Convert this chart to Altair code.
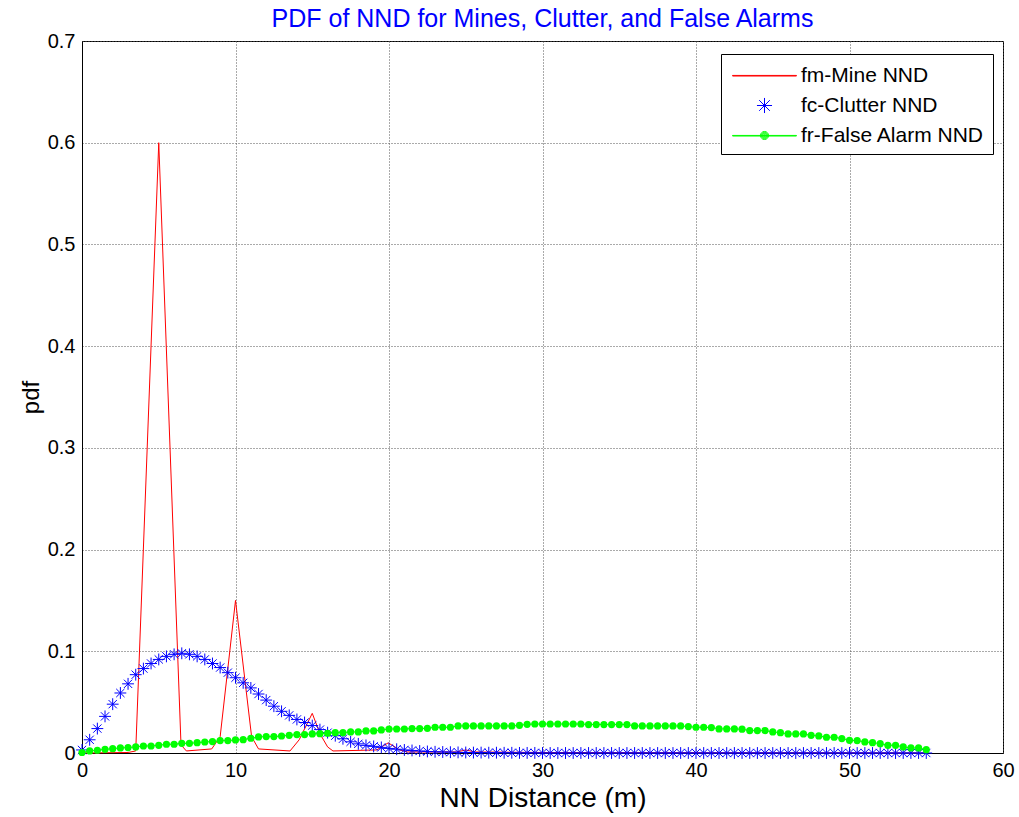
import altair as alt
import pandas as pd

# ---------------- data ----------------
x_grid = [i * 0.5 for i in range(111)]  # 0 .. 55 in steps of 0.5

clutter_pdf = [
    0.003, 0.013, 0.024, 0.036, 0.048, 0.059, 0.068, 0.077, 0.083, 0.088,
    0.092, 0.095, 0.097, 0.098, 0.097, 0.095, 0.092, 0.088, 0.084, 0.079,
    0.074, 0.069, 0.064, 0.058, 0.052, 0.046, 0.041, 0.037, 0.033, 0.030,
    0.027, 0.023, 0.020, 0.017, 0.014, 0.011, 0.009, 0.0075, 0.0065, 0.0055,
    0.0045, 0.0037, 0.003, 0.0025, 0.002, 0.0015, 0.0012, 0.001, 0.0008, 0.0006,
    0.0005, 0.0004, 0.0004, 0.0003, 0.0003, 0.0002, 0.0002, 0.0001, 0.0001, 0.0001,
    0.0, 0.0, 0.0, 0.0, 0.0, 0.0, 0.0, 0.0, 0.0, 0.0,
    0.0, 0.0, 0.0, 0.0, 0.0, 0.0, 0.0, 0.0, 0.0, 0.0,
    0.0, 0.0, 0.0, 0.0, 0.0, 0.0, 0.0, 0.0, 0.0, 0.0,
    0.0, 0.0, 0.0, 0.0, 0.0, 0.0, 0.0, 0.0, 0.0, 0.0,
    0.0, 0.0, 0.0, 0.0, 0.0, 0.0, 0.0, 0.0, 0.0, 0.0,
    0.0,
]

false_alarm_pdf = [
    0.0005, 0.002, 0.0027, 0.0036, 0.0043, 0.005, 0.0053, 0.006, 0.0069, 0.0069,
    0.0076, 0.0086, 0.0086, 0.0095, 0.0095, 0.0102, 0.0108, 0.0112, 0.0122, 0.0122,
    0.0128, 0.0131, 0.0145, 0.0158, 0.0161, 0.0161, 0.0167, 0.0174, 0.0181, 0.0181,
    0.0187, 0.019, 0.0194, 0.020, 0.020, 0.0207, 0.0207, 0.0217, 0.0217, 0.0227,
    0.0236, 0.0236, 0.0236, 0.024, 0.024, 0.0243, 0.0253, 0.0253, 0.0253, 0.0266,
    0.0266, 0.0266, 0.0266, 0.0266, 0.0266, 0.0266, 0.0266, 0.0272, 0.0282, 0.0285,
    0.0285, 0.0285, 0.0285, 0.0285, 0.0285, 0.0285, 0.028, 0.028, 0.028, 0.028,
    0.028, 0.028, 0.0266, 0.0266, 0.0266, 0.0266, 0.0266, 0.0266, 0.0266, 0.026,
    0.0253, 0.0253, 0.025, 0.0237, 0.0237, 0.0237, 0.0234, 0.022, 0.022, 0.022,
    0.0207, 0.020, 0.0187, 0.0187, 0.0187, 0.0174, 0.0168, 0.0155, 0.0155, 0.0142,
    0.0125, 0.0122, 0.0109, 0.0102, 0.0092, 0.0076, 0.0076, 0.006, 0.005, 0.005,
    0.0033,
]

mine_x = [0.0, 3.0, 3.5, 5.0, 6.45, 6.8, 8.45, 9.0, 10.0, 11.05, 11.5,
          13.55, 14.15, 15.0, 15.5, 16.0, 16.35, 19.2, 19.95, 20.7, 21.2,
          24.4, 25.0, 25.6, 30.0, 40.0, 50.0, 55.0]
mine_pdf = [0.0, 0.0005, 0.002, 0.6, 0.008, 0.002, 0.004, 0.016, 0.15, 0.016, 0.004,
            0.002, 0.013, 0.039, 0.019, 0.006, 0.002, 0.003, 0.010, 0.003, 0.001,
            0.001, 0.003, 0.001, 0.0005, 0.0003, 0.0002, 0.0]

series_names = ["fm-Mine NND", "fc-Clutter NND", "fr-False Alarm NND"]
series_colors = ["#ff0000", "#0000ff", "#00ff00"]

x_ticks = [0, 10, 20, 30, 40, 50, 60]
y_ticks = [0, 0.1, 0.2, 0.3, 0.4, 0.5, 0.6, 0.7]

# ---------------- tables ----------------
df_mine = pd.DataFrame({"x": mine_x, "y": mine_pdf})
df_clutter = pd.DataFrame({"x": x_grid, "y": clutter_pdf})
df_fa = pd.DataFrame({"x": x_grid, "y": false_alarm_pdf})
df_leg = pd.DataFrame({"series": series_names, "x": [None] * 3, "y": [None] * 3})

FONT = "Liberation Sans"

# marker / legend symbol shapes (unit = half of sqrt(symbol size))
star_path = "M-1,0L1,0M0,-1L0,1M-0.7,-0.7L0.7,0.7M-0.7,0.7L0.7,-0.7"
leg_line = "M-2.46,0.04L2.46,0.04L2.46,-0.005L-2.46,-0.005Z"
leg_star = "M-0.58,0L0.58,0M0,-0.58L0,0.58M-0.41,-0.41L0.41,0.41M-0.41,0.41L0.41,-0.41"
circ = ""
for r in [0.31, 0.24, 0.17, 0.1, 0.04]:
    circ += f"M{-r},0A{r},{r} 0 1,0 {r},0A{r},{r} 0 1,0 {-r},0"
leg_green = leg_line + circ

xscale = alt.Scale(domain=[0, 60], nice=False, zero=False)
yscale = alt.Scale(domain=[0, 0.7], nice=False)

X = alt.X("x:Q", scale=xscale,
          axis=alt.Axis(values=x_ticks, title="NN Distance (m)", format="d", labelFlush=False))
Y = alt.Y("y:Q", scale=yscale,
          axis=alt.Axis(values=y_ticks, title="pdf", format=".1~f", labelFlush=False))

mine = alt.Chart(df_mine).mark_line(color="#ff0000", strokeWidth=1).encode(x=X, y=Y)

clutter = alt.Chart(df_clutter).mark_point(
    shape=star_path, filled=False, color="#0000ff", size=140, strokeWidth=1, opacity=1
).encode(x=X, y=Y)

fa_line = alt.Chart(df_fa).mark_line(color="#00ff00", strokeWidth=1).encode(x=X, y=Y)
fa_pts = alt.Chart(df_fa).mark_circle(color="#00ff00", size=52, opacity=1).encode(x=X, y=Y)

legend = alt.Chart(df_leg).mark_point(filled=False, opacity=1, strokeWidth=1, size=676).encode(
    x=X, y=Y,
    color=alt.Color("series:N",
                    scale=alt.Scale(domain=series_names, range=series_colors),
                    legend=alt.Legend(title=None, orient="none", legendX=639, legendY=13,
                                      symbolSize=676, symbolStrokeWidth=1,
                                      symbolOffset=22,
                                      labelFont=FONT, labelFontSize=21, labelColor="#000",
                                      labelOffset=23, labelLimit=400,
                                      padding=8, rowPadding=6,
                                      strokeColor="#000", fillColor="#fff")),
    shape=alt.Shape("series:N",
                    scale=alt.Scale(domain=series_names, range=[leg_line, leg_star, leg_green]),
                    legend=None),
)

chart = alt.layer(mine, clutter, fa_line, fa_pts, legend).properties(
    width=921, height=712,
    background="#ffffff",
    title=alt.TitleParams("PDF of NND for Mines, Clutter, and False Alarms",
                          color="#0000ff", font=FONT, fontSize=25, fontWeight="normal",
                          anchor="middle", frame="group", offset=9, dy=10),
    autosize=alt.AutoSizeParams(type="none"),
    padding={"left": 82, "top": 41, "right": 16, "bottom": 64},
).configure_view(
    stroke="#000", strokeWidth=1
).configure_axis(
    domainColor="#000", domainWidth=1,
    grid=True, gridColor="#555", gridDash=[1, 2], gridWidth=1,
    ticks=False,
    labelFont=FONT, labelFontSize=20, labelColor="#000",
    titleFont=FONT, titleFontWeight="normal", titleColor="#000",
).configure_axisX(
    labelPadding=7, titlePadding=4, titleFontSize=28
).configure_axisY(
    labelPadding=7, titlePadding=4, titleFontSize=24
)

chart.save("out.html", embed_options={"renderer": "svg", "actions": False})
